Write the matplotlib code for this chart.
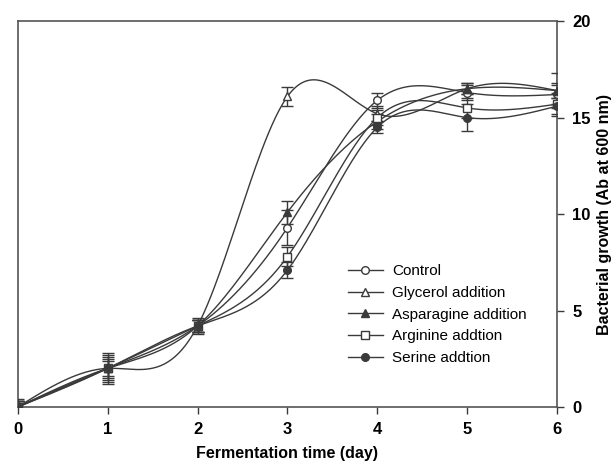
import numpy as np
import matplotlib.pyplot as plt

plt.rcParams["font.family"] = ["Liberation Sans", "DejaVu Sans"]

# ----------------------------
# Data
# ----------------------------
days = [0, 1, 2, 3, 4, 5, 6]

control = [0.0, 2.0, 4.2, 9.3, 15.9, 16.3, 16.2]
glycerol = [0.0, 2.0, 4.2, 16.1, 15.2, 16.5, 16.4]
asparagine = [0.0, 2.0, 4.2, 10.1, 14.8, 16.5, 16.4]
arginine = [0.0, 2.0, 4.2, 7.8, 15.0, 15.5, 15.7]
serine = [0.0, 2.0, 4.2, 7.1, 14.5, 15.0, 15.6]

control_err = [0.4, 0.7, 0.4, 0.9, 0.4, 0.4, 0.5]
glycerol_err = [0.3, 0.6, 0.3, 0.5, 0.4, 0.3, 0.4]
asparagine_err = [0.3, 0.5, 0.3, 0.6, 0.4, 0.3, 0.9]
arginine_err = [0.3, 0.8, 0.3, 0.5, 0.4, 0.5, 0.6]
serine_err = [0.3, 0.4, 0.3, 0.4, 0.3, 0.7, 0.4]

labels = ["Control", "Glycerol addition", "Asparagine addition",
          "Arginine addtion", "Serine addtion"]


def natural_spline(x, y, n=300):
    # natural cubic spline through the points, like the smoothed curves
    x = np.asarray(x, float)
    y = np.asarray(y, float)
    k = len(x)
    h = np.diff(x)
    A = np.zeros((k, k))
    b = np.zeros(k)
    A[0, 0] = A[-1, -1] = 1
    for i in range(1, k - 1):
        A[i, i - 1] = h[i - 1]
        A[i, i] = 2 * (h[i - 1] + h[i])
        A[i, i + 1] = h[i]
        b[i] = 6 * ((y[i + 1] - y[i]) / h[i] - (y[i] - y[i - 1]) / h[i - 1])
    M = np.linalg.solve(A, b)
    xs = np.linspace(x[0], x[-1], n)
    idx = np.clip(np.searchsorted(x, xs) - 1, 0, k - 2)
    x0, x1 = x[idx], x[idx + 1]
    hh = x1 - x0
    ys = (M[idx] * (x1 - xs) ** 3 / (6 * hh) + M[idx + 1] * (xs - x0) ** 3 / (6 * hh)
          + (y[idx] / hh - M[idx] * hh / 6) * (x1 - xs)
          + (y[idx + 1] / hh - M[idx + 1] * hh / 6) * (xs - x0))
    return xs, ys


# ----------------------------
# Plot
# ----------------------------
fig = plt.figure(figsize=(6.13, 4.71), dpi=100)
ax = fig.add_axes([0.029, 0.136, 0.880, 0.819])

col = "#3a3a3a"
series = [
    (control, control_err, "o", "white"),
    (glycerol, glycerol_err, "^", "white"),
    (asparagine, asparagine_err, "^", col),
    (arginine, arginine_err, "s", "white"),
    (serine, serine_err, "o", col),
]

for (vals, err, mk, fc), lab in zip(series, labels):
    xs, ys = natural_spline(days, vals)
    ax.plot(xs, ys, color=col, lw=1.0, zorder=2)
    ax.errorbar(days, vals, yerr=err, fmt="none", ecolor=col, elinewidth=1.0,
                capsize=4, capthick=1.0, zorder=3)
    ax.plot(days, vals, ls="none", marker=mk, ms=5.5, mfc=fc, mec=col,
            mew=1.0, zorder=4)
    ax.plot([], [], color=col, lw=1.0, marker=mk, ms=5.5, mfc=fc, mec=col,
            mew=1.0, label=lab)

ax.set_xlim(0, 6)
ax.set_ylim(0, 20)
ax.set_xticks(range(7))
ax.set_yticks([0, 5, 10, 15, 20])

ax.yaxis.tick_right()
ax.yaxis.set_label_position("right")
ax.tick_params(direction="out", length=5, width=1, colors=col,
               labelcolor="black", labelsize=12, pad=6)
for t in ax.get_xticklabels() + ax.get_yticklabels():
    t.set_fontweight("bold")

for s in ax.spines.values():
    s.set_color("#555555")
    s.set_linewidth(1.2)

ax.set_xlabel("Fermentation time (day)", fontsize=11.5, fontweight="bold",
              labelpad=6)
ax.set_ylabel("Bacterial growth (Ab at 600 nm)", fontsize=11.5,
              fontweight="bold", labelpad=4)

ax.legend(loc="lower left", bbox_to_anchor=(0.60, 0.093), frameon=False,
          fontsize=11, handlelength=2.3, handletextpad=0.6, labelspacing=0.5,
          borderaxespad=0)

fig.savefig("out.png", dpi=100)
